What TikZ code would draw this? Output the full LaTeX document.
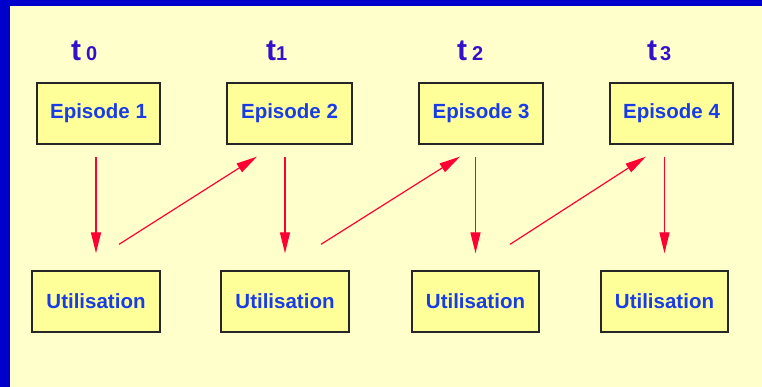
\documentclass[tikz,border=0pt]{standalone}
\usepackage{fontspec}
\setmainfont{Liberation Sans}
\usetikzlibrary{arrows.meta}
\definecolor{bgyellow}{RGB}{255,255,204}
\definecolor{boxyellow}{RGB}{255,255,153}
\definecolor{frameblue}{RGB}{0,0,204}
\definecolor{textblue}{RGB}{25,60,230}
\definecolor{tblue}{RGB}{51,17,204}
\definecolor{arrowred}{RGB}{255,0,51}
\begin{document}
\begin{tikzpicture}[x=1pt,y=1pt,
  ebox/.style={draw=black!85,line width=1.3pt,fill=boxyellow,minimum height=61pt,inner sep=0pt,
    font=\fontsize{20.5}{22}\selectfont\bfseries,text=textblue},
  tlabel/.style={anchor=base west,inner sep=0pt,text=tblue,font=\bfseries},
  conn/.style={draw=arrowred,line width=1.2pt,-{Triangle[length=21pt,width=10pt]}}]
\useasboundingbox (0,0) rectangle (762,387);
\fill[frameblue] (0,0) rectangle (762,387);
\fill[bgyellow] (10,0) rectangle (762,381);
% time labels
\node[tlabel] (t0) at (71,326) {{\fontsize{30}{30}\selectfont t}\hspace{5pt}{\fontsize{20}{20}\selectfont 0}};
\node[tlabel] (t1) at (266,326) {{\fontsize{30}{30}\selectfont t}{\fontsize{20}{20}\selectfont 1}};
\node[tlabel] (t2) at (457,326) {{\fontsize{30}{30}\selectfont t}\hspace{5pt}{\fontsize{20}{20}\selectfont 2}};
\node[tlabel] (t3) at (647,326) {{\fontsize{30}{30}\selectfont t}\hspace{3pt}{\fontsize{20}{20}\selectfont 3}};
% episodes
\node[ebox,minimum width=123pt] (e1) at (98.5,273.5) {Episode 1};
\node[ebox,minimum width=125pt] (e2) at (289.5,273.5) {Episode 2};
\node[ebox,minimum width=124pt] (e3) at (481,273.5) {Episode 3};
\node[ebox,minimum width=123pt] (e4) at (671.5,273.5) {Episode 4};
% utilisations
\node[ebox,minimum width=128pt] (u1) at (96,85.5) {Utilisation};
\node[ebox,minimum width=128pt] (u2) at (285,85.5) {Utilisation};
\node[ebox,minimum width=127pt] (u3) at (475.5,85.5) {Utilisation};
\node[ebox,minimum width=127pt] (u4) at (664.5,85.5) {Utilisation};
% vertical arrows
\draw[conn,shorten <=12pt,shorten >=17pt] (u1.north |- e1.south) -- (u1.north);
\draw[conn,shorten <=12pt,shorten >=17pt] (u2.north |- e2.south) -- (u2.north);
\draw[conn,shorten <=12pt,shorten >=17pt] (u3.north |- e3.south) -- (u3.north);
\draw[conn,shorten <=12pt,shorten >=17pt] (u4.north |- e4.south) -- (u4.north);
% diagonal arrows
\draw[conn] ([shift={(23,26)}]u1.north) -- ([shift={(-32.5,-12)}]e2.south);
\draw[conn] ([shift={(36,26)}]u2.north) -- ([shift={(-21,-12)}]e3.south);
\draw[conn] ([shift={(34.5,26)}]u3.north) -- ([shift={(-25.5,-12)}]e4.south);
\end{tikzpicture}
\end{document}
